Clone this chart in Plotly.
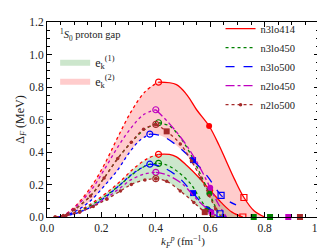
import plotly.graph_objects as go

# ---------------- data ----------------
names = ["n3lo414", "n3lo450", "n3lo500", "n2lo450", "n2lo500"]
colors = ["#ff0000", "#008000", "#0000ff", "#bf00bf", "#a52a2a"]
dashes = ["solid", "dot", "dash", "dashdot", "dot"]

x_ticks = [0.0, 0.2, 0.4, 0.6, 0.8, 1.0]
x_labels = ["0.0", "0.2", "0.4", "0.6", "0.8", "1.0"]
y_ticks = [0.0, 0.2, 0.4, 0.6, 0.8, 1.0, 1.2]
y_labels = ["0.0", "0.2", "0.4", "0.6", "0.8", "1.0", "1.2"]

# upper group  (e_k^(2))  -- rising (dotted) and falling parts
up_rise_k = [
    [0.03, 0.06, 0.10, 0.16, 0.21, 0.26, 0.31, 0.36, 0.41],
    [0.03, 0.06, 0.10, 0.16, 0.21, 0.26, 0.31, 0.36, 0.41],
    [0.04, 0.07, 0.11, 0.16, 0.21, 0.26, 0.30, 0.34, 0.378],
    [0.03, 0.06, 0.10, 0.16, 0.21, 0.26, 0.31, 0.355, 0.40],
    [0.03, 0.06, 0.10, 0.16, 0.21, 0.26, 0.31, 0.355, 0.40],
]
up_rise_v = [
    [0.0, 0.01, 0.06, 0.18, 0.32, 0.49, 0.65, 0.77, 0.83],
    [0.0, 0.01, 0.045, 0.13, 0.24, 0.36, 0.46, 0.54, 0.58],
    [0.0, 0.01, 0.04, 0.10, 0.19, 0.29, 0.39, 0.47, 0.51],
    [0.0, 0.01, 0.055, 0.16, 0.29, 0.43, 0.55, 0.63, 0.66],
    [0.0, 0.01, 0.045, 0.13, 0.24, 0.36, 0.46, 0.54, 0.57],
]
up_fall_k = [
    [0.41, 0.476, 0.515, 0.55, 0.596, 0.633, 0.66, 0.69, 0.724, 0.76, 0.80],
    [0.41, 0.45, 0.49, 0.53, 0.565, 0.597, 0.62, 0.64],
    [0.378, 0.42, 0.47, 0.537, 0.59, 0.64, 0.67, 0.695],
    [0.40, 0.45, 0.505, 0.54, 0.57, 0.60, 0.63, 0.66],
    [0.40, 0.44, 0.49, 0.531, 0.565, 0.596, 0.62, 0.64],
]
up_fall_v = [
    [0.83, 0.815, 0.75, 0.66, 0.56, 0.44, 0.34, 0.23, 0.12, 0.04, 0.0],
    [0.58, 0.56, 0.49, 0.38, 0.26, 0.145, 0.06, 0.0],
    [0.51, 0.50, 0.45, 0.35, 0.25, 0.133, 0.095, 0.075],
    [0.66, 0.575, 0.46, 0.37, 0.28, 0.18, 0.08, 0.0],
    [0.57, 0.527, 0.45, 0.345, 0.24, 0.133, 0.05, 0.0],
]

# lower group  (e_k^(1))
lo_rise_k = [
    [0.03, 0.07, 0.12, 0.17, 0.22, 0.27, 0.32, 0.37, 0.41],
    [0.03, 0.07, 0.12, 0.17, 0.22, 0.27, 0.32, 0.37, 0.41],
    [0.04, 0.08, 0.12, 0.17, 0.22, 0.27, 0.31, 0.35, 0.378],
    [0.03, 0.07, 0.12, 0.17, 0.22, 0.27, 0.31, 0.36, 0.40],
    [0.03, 0.07, 0.12, 0.17, 0.22, 0.27, 0.31, 0.36, 0.40],
]
lo_rise_v = [
    [0.0, 0.01, 0.04, 0.09, 0.15, 0.22, 0.30, 0.36, 0.386],
    [0.0, 0.01, 0.035, 0.08, 0.135, 0.20, 0.27, 0.32, 0.33],
    [0.0, 0.01, 0.03, 0.07, 0.13, 0.20, 0.26, 0.305, 0.325],
    [0.0, 0.01, 0.03, 0.07, 0.12, 0.18, 0.23, 0.265, 0.275],
    [0.0, 0.01, 0.03, 0.065, 0.11, 0.16, 0.20, 0.228, 0.236],
]
lo_fall_k = [
    [0.41, 0.45, 0.476, 0.515, 0.56, 0.60, 0.64, 0.68, 0.72],
    [0.41, 0.44, 0.48, 0.53, 0.56, 0.59, 0.62, 0.64],
    [0.378, 0.42, 0.48, 0.537, 0.58, 0.636, 0.66],
    [0.40, 0.44, 0.50, 0.55, 0.604, 0.63],
    [0.40, 0.44, 0.49, 0.54, 0.58, 0.61],
]
lo_fall_v = [
    [0.386, 0.385, 0.37, 0.315, 0.24, 0.164, 0.09, 0.03, 0.0],
    [0.33, 0.32, 0.28, 0.20, 0.12, 0.048, 0.01, 0.0],
    [0.325, 0.31, 0.25, 0.147, 0.07, 0.02, 0.0],
    [0.275, 0.26, 0.20, 0.11, 0.03, 0.0],
    [0.236, 0.22, 0.16, 0.09, 0.03, 0.0],
]

# band edges (lower envelopes)
e2_low_k = [0.04, 0.07, 0.11, 0.16, 0.21, 0.26, 0.30, 0.34, 0.378, 0.42, 0.47, 0.531, 0.565, 0.596, 0.62, 0.64]
e2_low_v = [0.0, 0.01, 0.04, 0.10, 0.19, 0.29, 0.39, 0.47, 0.51, 0.50, 0.45, 0.345, 0.24, 0.133, 0.05, 0.0]
e1_low_k = [0.04, 0.08, 0.12, 0.17, 0.22, 0.27, 0.31, 0.36, 0.40, 0.44, 0.49, 0.54, 0.58, 0.61]
e1_low_v = [0.0, 0.01, 0.03, 0.065, 0.11, 0.16, 0.20, 0.228, 0.236, 0.22, 0.16, 0.09, 0.03, 0.0]

# filled intermediate markers (upper, lower)
mid_up_k = [0.596, 0.597, 0.537, 0.60, 0.44]
mid_up_v = [0.56, 0.145, 0.35, 0.18, 0.527]
mid_lo_k = [0.60, 0.59, 0.537, 0.604, 0.58]
mid_lo_v = [0.164, 0.048, 0.147, 0.03, 0.03]
mid_symbols = ["circle", "circle", "square", "circle", "square"]

# open squares
sq_k = [0.724, 0.72, 0.64, 0.636]
sq_v = [0.12, 0.0, 0.133, 0.02]
sq_col = ["#ff0000", "#ff0000", "#0000ff", "#0000ff"]

# closure markers on baseline
base_k = [0.76, 0.82, 0.887, 0.93]
base_col = ["#008000", "#008000", "#bf00bf", "#a52a2a"]

# ---------------- figure ----------------
FONT = "Liberation Serif"
fig = go.Figure()

# bands
fig.add_trace(go.Scatter(x=e1_low_k, y=e1_low_v, mode="lines", line=dict(width=0, shape="spline"),
                         showlegend=False, hoverinfo="skip", legend="legend2"))
fig.add_trace(go.Scatter(x=lo_rise_k[0] + lo_fall_k[0][1:], y=lo_rise_v[0] + lo_fall_v[0][1:],
                         mode="lines", line=dict(width=0, shape="spline"), fill="tonexty",
                         fillcolor="rgba(0,128,0,0.2)", name="e<sub>k</sub><sup>(1)</sup>",
                         legend="legend2"))
fig.add_trace(go.Scatter(x=e2_low_k, y=e2_low_v, mode="lines", line=dict(width=0, shape="spline"),
                         showlegend=False, hoverinfo="skip", legend="legend2"))
fig.add_trace(go.Scatter(x=up_rise_k[0] + up_fall_k[0][1:], y=up_rise_v[0] + up_fall_v[0][1:],
                         mode="lines", line=dict(width=0, shape="spline"), fill="tonexty",
                         fillcolor="rgba(255,0,0,0.2)", name="e<sub>k</sub><sup>(2)</sup>",
                         legend="legend2"))

for i, nm in enumerate(names):
    c = colors[i]
    brown = (nm == "n2lo500")
    mode_line = "lines+markers" if brown else "lines"
    mk = dict(size=3.5, color=c, symbol="circle")
    for rk, rv, fk, fv, grp in [(up_rise_k[i], up_rise_v[i], up_fall_k[i], up_fall_v[i], "u"),
                                (lo_rise_k[i], lo_rise_v[i], lo_fall_k[i], lo_fall_v[i], "l")]:
        fig.add_trace(go.Scatter(x=rk, y=rv, mode=mode_line, marker=mk,
                                 line=dict(color=c, width=1.3, dash="dot", shape="spline"),
                                 showlegend=False))
        fig.add_trace(go.Scatter(x=fk, y=fv, mode=mode_line, marker=mk,
                                 line=dict(color=c, width=1.3, dash=dashes[i], shape="spline"),
                                 name=nm, showlegend=(grp == "u")))
        # open circle at peak
        fig.add_trace(go.Scatter(x=[fk[0]], y=[fv[0]], mode="markers",
                                 marker=dict(symbol="circle-open", size=6, color=c, line=dict(width=1.2)),
                                 showlegend=False))
    fig.add_trace(go.Scatter(x=[mid_up_k[i], mid_lo_k[i]], y=[mid_up_v[i], mid_lo_v[i]], mode="markers",
                             marker=dict(symbol=mid_symbols[i], size=6, color=c), showlegend=False))

fig.add_trace(go.Scatter(x=sq_k, y=sq_v, mode="markers",
                         marker=dict(symbol="square-open", size=6, color=sq_col, line=dict(width=1.2, color=sq_col)),
                         showlegend=False))
fig.add_trace(go.Scatter(x=base_k, y=[0.0] * len(base_k), mode="markers",
                         marker=dict(symbol="square", size=6, color=base_col), showlegend=False,
                         cliponaxis=False))

axis_common = dict(showline=True, linecolor="black", linewidth=1, mirror="allticks",
                   ticks="inside", ticklen=5, tickwidth=1, tickcolor="black",
                   showgrid=False, zeroline=False,
                   tickfont=dict(family=FONT, size=11.5, color="#222"),
                   minor=dict(ticks="inside", ticklen=3, dtick=0.05, tickcolor="black", showgrid=False))

fig.update_layout(
    width=325, height=250,
    margin=dict(l=39, r=14, t=14, b=41, autoexpand=False),
    paper_bgcolor="white", plot_bgcolor="white",
    font=dict(family=FONT, size=11, color="#222"),
    xaxis=dict(range=[0, 1.0], tickmode="array", tickvals=x_ticks, ticktext=x_labels,
               title=dict(text="<i>k</i><sub><i>F</i></sub><sup><i>p</i></sup> (fm<sup>−1</sup>)",
                          font=dict(family=FONT, size=11), standoff=0),
               **axis_common),
    yaxis=dict(range=[0, 1.2], tickmode="array", tickvals=y_ticks, ticktext=y_labels,
               title=dict(text="Δ<sub><i>F</i></sub> (MeV)", font=dict(family=FONT, size=12), standoff=2),
               **axis_common),
    legend=dict(x=0.638, y=1.04, xanchor="left", yanchor="top",
                bgcolor="rgba(0,0,0,0)",
                font=dict(family=FONT, size=10.5), itemwidth=30, tracegroupgap=0),
    legend2=dict(x=0.03, y=0.87, xanchor="left", yanchor="top", bgcolor="rgba(0,0,0,0)",
                 font=dict(family=FONT, size=12), itemwidth=30, traceorder="normal"),
    annotations=[dict(x=0.04, y=0.935, xref="paper", yref="paper", xanchor="left", yanchor="middle",
                      text="<sup>1</sup><i>S</i><sub>0</sub> proton gap", showarrow=False,
                      font=dict(family=FONT, size=10.5))],
)

fig.write_html("out.html")
